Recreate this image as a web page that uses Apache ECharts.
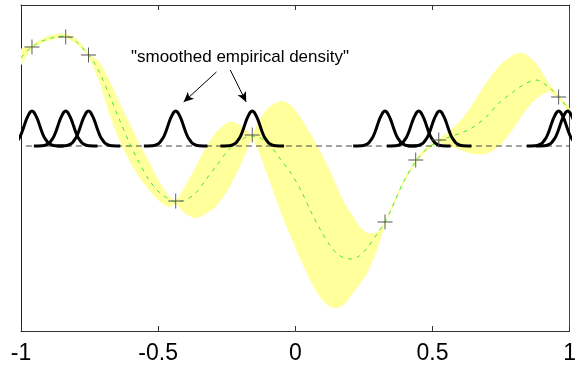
<!DOCTYPE html>
<html><head><meta charset="utf-8">
<script src="https://cdn.jsdelivr.net/npm/echarts@6/dist/echarts.min.js"></script>
<style>html,body{margin:0;padding:0;background:#fff;}#c{width:579px;height:370px;}</style>
</head><body><div id="c"></div>
<script>
// x grid (data units) shared by mean and band
const xGrid = [-1.000,-0.982,-0.960,-0.931,-0.902,-0.873,-0.837,-0.797,-0.754,-0.732,
 -0.714,-0.678,-0.642,-0.606,-0.570,-0.533,-0.497,-0.461,-0.436,-0.400,
 -0.363,-0.327,-0.291,-0.244,-0.208,-0.179,-0.157,-0.136,-0.099,-0.052,
 -0.016,0.020,0.056,0.092,0.128,0.154,0.179,0.208,0.233,0.262,
 0.298,0.327,0.360,0.396,0.443,0.479,0.523,0.562,0.613,0.649,
 0.696,0.743,0.794,0.830,0.877,0.924,0.960,1.000];
const meanY = [88,94,99,104,107,109,110,104,91,83,
 74,51,27,4,-16,-34,-46,-53,-56,-54,
 -47,-34,-21,-4,4,9,10,9,3,-14,
 -27,-44,-65,-84,-100,-108,-112,-113,-110,-102,
 -88,-76,-57,-35,-14,-3,5,9,14,19,
 29,43,54,61,66,59,49,36];
const upperY = [97,99,101,106,110,112,112,107,93,88,
 84,66,44,24,3,-16,-35,-50,-54,-39,
 -21,-2,13,24,22,16,12,24,38,45,
 41,28,12,-6,-26,-42,-57,-69,-80,-87,
 -86,-75,-55,-33,-12,-1,7,15,29,43,
 63,80,91,93,83,63,51,38];
const lowerY = [81,89,97,102,105,107,108,102,89,76,
 64,32,6,-14,-31,-44,-55,-61,-58,-68,
 -72,-68,-61,-43,-24,-6,7,-4,-31,-67,
 -91,-114,-135,-152,-161,-162,-158,-148,-139,-127,
 -104,-79,-59,-37,-16,-5,3,0,-5,-8,
 -8,0,17,32,47,54,47,33];
// observed samples (plus markers)
const sampleX = [-0.960,-0.837,-0.754,-0.436,-0.157,0.327,0.439,0.523,0.960];
const sampleY = [99,109,91,-55,11,-76,-14,6,49];
// kernel bump centres and half-profile
const bumpCenters = [-0.960,-0.837,-0.754,-0.436,-0.157,0.327,0.450,0.526,0.960,0.993];
const kernelDx = [0,0.007,0.014,0.022,0.029,0.036,0.043,0.051,0.058,0.065,0.072,0.080,0.087,0.101,0.116];
const kernelH = [35,33.8,30.3,25.4,19.8,14.3,9.7,6.1,3.6,1.9,1.0,0.5,0.2,0.03,0];
const baseX = [-0.982,1.0];
const annotation = '"smoothed empirical density"';
const arrows = [[[-0.2875,74],[-0.407,44]],[[-0.237,76],[-0.179,44]]];

const chart = echarts.init(document.getElementById('c'), null, {renderer:'canvas'});
const FONT = '"Liberation Sans", Arial, Helvetica, sans-serif';

const bandSeries = {
  type:'custom', z:1, silent:true, xAxisIndex:0, yAxisIndex:0,
  data:[[xGrid[0], upperY[0]]],
  renderItem:function(params, api){
    const pts = [];
    for (let i=0;i<xGrid.length;i++) pts.push(api.coord([xGrid[i], upperY[i]]));
    for (let i=xGrid.length-1;i>=0;i--) pts.push(api.coord([xGrid[i], lowerY[i]]));
    return {type:'polygon', shape:{points:pts, smooth:0.25}, style:{fill:'#ffff9c', stroke:null}};
  },
  clip:true
};

const bumpSeries = bumpCenters.map(function(c){
  const d = [];
  for (let i=kernelDx.length-1;i>0;i--) d.push([c - kernelDx[i], kernelH[i]]);
  for (let i=0;i<kernelDx.length;i++) d.push([c + kernelDx[i], kernelH[i]]);
  return {type:'line', data:d, symbol:'none', smooth:0.2, z:5, silent:true,
    lineStyle:{color:'#000', width:3, join:'round', cap:'butt'}, clip:true};
});

const option = {
  animation:false,
  backgroundColor:'#fff',
  grid:{left:21, right:5, top:5, height:326, containLabel:false},
  xAxis:[
    {type:'value', position:'bottom', min:-1, max:1, interval:0.5,
     axisLine:{show:true, onZero:false, lineStyle:{color:'#333', width:1}},
     axisTick:{show:true, inside:true, length:5, lineStyle:{color:'#333'}},
     splitLine:{show:false},
     axisLabel:{show:true, fontSize:23, color:'#000', fontFamily:FONT, margin:11,
       formatter:function(v){ return String(v); }}},
    {type:'value', position:'top', min:-1, max:1, interval:0.5,
     axisLine:{show:true, onZero:false, lineStyle:{color:'#333', width:1}},
     axisTick:{show:true, inside:true, length:5, lineStyle:{color:'#333'}},
     splitLine:{show:false}, axisLabel:{show:false}}
  ],
  yAxis:[
    {type:'value', position:'left', min:-185, max:141,
     axisLine:{show:true, onZero:false, lineStyle:{color:'#222', width:1}},
     axisTick:{show:false}, axisLabel:{show:false}, splitLine:{show:false}},
    {type:'value', position:'right', min:-185, max:141,
     axisLine:{show:true, onZero:false, lineStyle:{color:'#444', width:1}},
     axisTick:{show:false}, axisLabel:{show:false}, splitLine:{show:false}}
  ],
  graphic:[{type:'text', x:240, y:57, z:100, silent:true,
    style:{text:annotation, fontSize:17, fontFamily:FONT, fill:'#000',
      textAlign:'center', textVerticalAlign:'middle'}}],
  series:[
    bandSeries,
    {type:'line', data:baseX.map(function(x){return [x,0];}), symbol:'none', z:3, silent:true,
     lineStyle:{color:'#444', width:1, type:[6,4]},
     markLine:{silent:true, symbol:['none','arrow'], symbolSize:[7,10],
       lineStyle:{color:'#000', width:1, type:'solid'}, label:{show:false},
       data:arrows.map(function(a){return [{coord:a[0]},{coord:a[1]}];})}},
    {type:'line', data:xGrid.map(function(x,i){return [x, meanY[i]];}), symbol:'none', smooth:0.3, z:4, silent:true,
     lineStyle:{color:'#3ee83e', width:1, type:[4,5]}}
  ].concat(bumpSeries).concat([
    {type:'scatter', data:sampleX.map(function(x,i){return [x, sampleY[i]];}), z:10, silent:true,
     symbol:'path://M7.5,0H8.5V16H7.5Z M0,7.5H16V8.5H0Z', symbolSize:15,
     itemStyle:{color:'#555', opacity:1}}
  ])
};
chart.setOption(option);
</script></body></html>
